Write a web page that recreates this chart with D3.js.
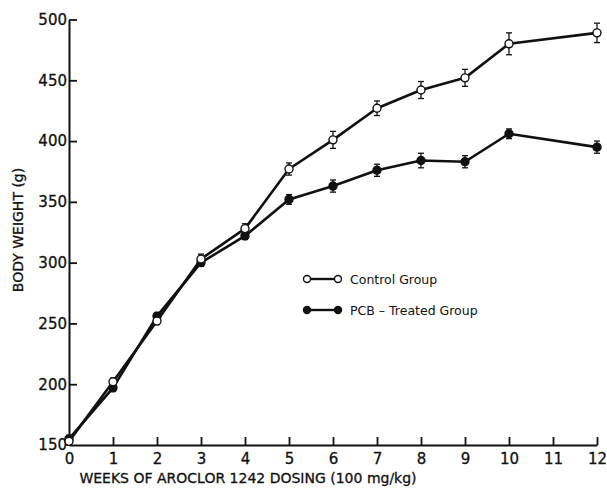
<!DOCTYPE html>
<html>
<head>
<meta charset="utf-8">
<script src="https://cdn.jsdelivr.net/npm/d3@7"></script>
<style>
  body { margin: 0; background: #fff; }
  svg text { font-family: "DejaVu Sans", sans-serif; fill: #111; }
</style>
</head>
<body>
<div id="main"></div>
<script>
// data
var weeks = [0, 1, 2, 3, 4, 5, 6, 7, 8, 9, 10, 12];
var control = [153, 202, 252, 303, 328, 377, 401, 427, 442, 452, 480, 489];
var controlErr = [3, 3, 3, 4, 4, 5, 7, 6, 7, 7, 9, 8];
var pcb = [155, 197, 256, 300, 322, 352, 363, 376, 384, 383, 406, 395];
var pcbErr = [3, 3, 3, 3, 3, 4, 5, 5, 6, 5, 4, 5];
var xTicks = [0, 1, 2, 3, 4, 5, 6, 7, 8, 9, 10, 11, 12];
var yTicks = [150, 200, 250, 300, 350, 400, 450, 500];

var width = 607, height = 490;
var svg = d3.select("#main").append("svg")
  .attr("width", width).attr("height", height);

var x = d3.scaleLinear().domain([0, 12]).range([69, 597]);
var y = d3.scaleLinear().domain([150, 500]).range([445, 19.5]);

var ink = "#111";

// axes
var xAxis = svg.append("g")
  .attr("transform", "translate(0," + y(150) + ")")
  .call(d3.axisBottom(x).tickValues(xTicks).tickSizeInner(-8).tickSizeOuter(0).tickPadding(11));
var yAxis = svg.append("g")
  .attr("transform", "translate(" + x(0) + ",0)")
  .call(d3.axisLeft(y).tickValues(yTicks).tickSizeInner(-8).tickSizeOuter(0).tickPadding(4));

[xAxis, yAxis].forEach(function (g) {
  g.select(".domain").attr("stroke", ink).attr("stroke-width", 2);
  g.selectAll(".tick line").attr("stroke", ink).attr("stroke-width", 1.8);
  g.selectAll(".tick text").style("font-size", "15px").attr("fill", ink)
    .attr("stroke", ink).attr("stroke-width", 0.3);
});
xAxis.selectAll(".tick text").attr("dy", "0.5em");
// the 0 label sits under the corner, y ticks drawn only to the right
yAxis.selectAll(".tick text").attr("x", -2);
xAxis.selectAll(".tick").filter(function (d) { return d === 0; }).select("line").remove();
yAxis.selectAll(".tick").filter(function (d) { return d === 150; }).select("line").remove();

// axis titles
svg.append("text")
  .text("WEEKS OF AROCLOR 1242 DOSING (100 mg/kg)")
  .attr("x", 248).attr("y", 483)
  .attr("text-anchor", "middle")
  .attr("stroke", ink).attr("stroke-width", 0.3)
  .style("font-size", "14px");
svg.append("text")
  .text("BODY WEIGHT (g)")
  .attr("transform", "translate(23," + 230 + ") rotate(-90)")
  .attr("text-anchor", "middle")
  .attr("stroke", ink).attr("stroke-width", 0.3)
  .style("font-size", "14px");

function drawSeries(vals, errs, filled) {
  var pts = weeks.map(function (w, i) { return { w: w, v: vals[i], e: errs[i] }; });
  var line = d3.line().x(function (d) { return x(d.w); }).y(function (d) { return y(d.v); });
  svg.append("path").datum(pts)
    .attr("d", line)
    .attr("fill", "none").attr("stroke", ink).attr("stroke-width", 2.6)
    .attr("stroke-linejoin", "round");
  var eb = svg.append("g").selectAll("g").data(pts).enter().append("g");
  eb.append("line")
    .attr("x1", function (d) { return x(d.w); }).attr("x2", function (d) { return x(d.w); })
    .attr("y1", function (d) { return y(d.v - d.e); }).attr("y2", function (d) { return y(d.v + d.e); })
    .attr("stroke", ink).attr("stroke-width", 1.3);
  [-1, 1].forEach(function (s) {
    eb.append("line")
      .attr("x1", function (d) { return x(d.w) - 3; }).attr("x2", function (d) { return x(d.w) + 3; })
      .attr("y1", function (d) { return y(d.v + s * d.e); }).attr("y2", function (d) { return y(d.v + s * d.e); })
      .attr("stroke", ink).attr("stroke-width", 1.3);
  });
  svg.append("g").selectAll("circle").data(pts).enter().append("circle")
    .attr("cx", function (d) { return x(d.w); })
    .attr("cy", function (d) { return y(d.v); })
    .attr("r", 4)
    .attr("fill", filled ? ink : "#fff")
    .attr("stroke", ink).attr("stroke-width", 1.4);
}

drawSeries(pcb, pcbErr, true);
drawSeries(control, controlErr, false);

// legend
var legend = [
  { label: "Control Group", filled: false, y: 279 },
  { label: "PCB \u2013 Treated Group", filled: true, y: 310 }
];
legend.forEach(function (l) {
  svg.append("line").attr("x1", 307).attr("x2", 338).attr("y1", l.y).attr("y2", l.y)
    .attr("stroke", ink).attr("stroke-width", 2.4);
  [307, 338].forEach(function (cx) {
    svg.append("circle").attr("cx", cx).attr("cy", l.y).attr("r", 3.5)
      .attr("fill", l.filled ? ink : "#fff").attr("stroke", ink).attr("stroke-width", 1.4);
  });
  svg.append("text").text(l.label)
    .attr("x", 350).attr("y", l.y + 4.5)
    .style("font-size", "12.5px");
});
</script>
</body>
</html>
